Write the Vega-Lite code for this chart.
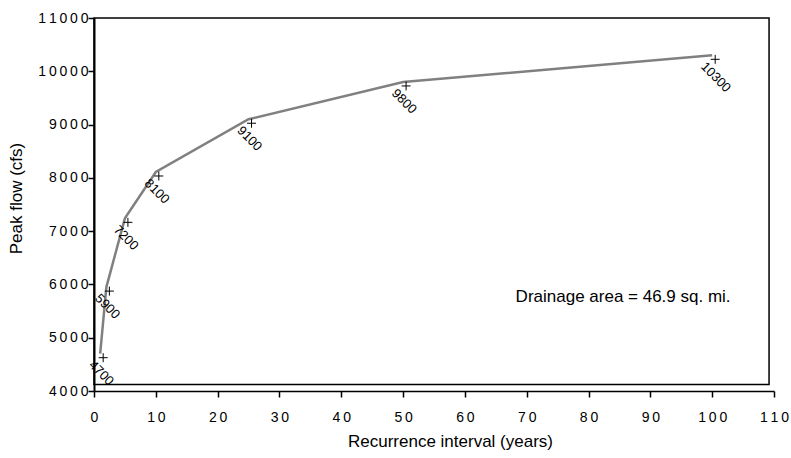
{
  "$schema": "https://vega.github.io/schema/vega-lite/v6.json",
  "autosize": "none",
  "width": 680,
  "height": 373,
  "padding": {"left": 94, "top": 18, "right": 17, "bottom": 67},
  "background": "white",
  "config": {
    "view": {"stroke": null},
    "font": "Liberation Sans",
    "axis": {
      "labelFont": "Liberation Sans",
      "titleFont": "Liberation Sans",
      "labelColor": "black",
      "titleColor": "black",
      "domainColor": "black",
      "tickColor": "black",
      "grid": false,
      "titleFontWeight": "normal"
    }
  },
  "datasets": {
    "flows": [
      {"interval": 1, "flow": 4700, "label": "4700"},
      {"interval": 2, "flow": 5950, "label": "5900"},
      {"interval": 5, "flow": 7240, "label": "7200"},
      {"interval": 10, "flow": 8110, "label": "8100"},
      {"interval": 25, "flow": 9100, "label": "9100"},
      {"interval": 50, "flow": 9800, "label": "9800"},
      {"interval": 100, "flow": 10300, "label": "10300"}
    ],
    "frame": [{"x1": 0, "x2": 109.2, "y1": 4120, "y2": 11000}],
    "note": [{"x": 68.2, "y": 5770, "text": "Drainage area = 46.9 sq. mi."}]
  },
  "layer": [
    {
      "data": {"name": "frame"},
      "mark": {"type": "rect", "fill": null, "stroke": "black", "strokeWidth": 1.5},
      "encoding": {
        "x": {
          "field": "x1", "type": "quantitative",
          "scale": {"domain": [0, 110], "nice": false, "zero": false},
          "axis": {
            "title": "Recurrence interval (years)",
            "titleFontSize": 17,
            "titlePadding": 9,
            "titleX": 356,
            "values": [0,5,10,15,20,25,30,35,40,45,50,55,60,65,70,75,80,85,90,95,100,105,110],
            "labelExpr": "datum.value % 10 == 0 ? join(split(datum.label, ''), '\u2009') : ''",
            "labelFontSize": 14,
            "labelPadding": 13,
            "tickSize": 6,
            "tickWidth": 1.5,
            "domainWidth": 1.5,
            "labelFlush": false,
            "labelOverlap": false
          }
        },
        "x2": {"field": "x2"},
        "y": {
          "field": "y1", "type": "quantitative",
          "scale": {"domain": [4000, 11000], "nice": false, "zero": false},
          "axis": {
            "title": "Peak flow (cfs)",
            "titleFontSize": 17,
            "titlePadding": 12,
            "titleY": 180,
            "values": [4000,4500,5000,5500,6000,6500,7000,7500,8000,8500,9000,9500,10000,10500,11000],
            "labelExpr": "datum.value % 1000 == 0 ? join(split(format(datum.value, 'd'), ''), '\u2009') : ''",
            "labelFontSize": 14,
            "labelPadding": 0,
            "tickSize": 6,
            "tickWidth": 1.5,
            "domainWidth": 2,
            "labelFlush": false,
            "labelOverlap": false
          }
        },
        "y2": {"field": "y2"}
      }
    },
    {
      "data": {"name": "flows"},
      "mark": {"type": "line", "color": "#808080", "strokeWidth": 2.5},
      "encoding": {
        "x": {"field": "interval", "type": "quantitative"},
        "y": {"field": "flow", "type": "quantitative"}
      }
    },
    {
      "data": {"name": "flows"},
      "mark": {"type": "point", "shape": "M-1,0H1M0,-1V1", "size": 81, "filled": false, "stroke": "black", "strokeWidth": 1, "opacity": 1, "xOffset": 3, "yOffset": 4},
      "encoding": {
        "x": {"field": "interval", "type": "quantitative"},
        "y": {"field": "flow", "type": "quantitative"}
      }
    },
    {
      "data": {"name": "flows"},
      "mark": {"type": "text", "fontSize": 13, "color": "black", "angle": 45, "align": "left", "baseline": "middle", "dx": 0, "dy": 13},
      "encoding": {
        "x": {"field": "interval", "type": "quantitative"},
        "y": {"field": "flow", "type": "quantitative"},
        "text": {"field": "label"}
      }
    },
    {
      "data": {"name": "note"},
      "mark": {"type": "text", "fontSize": 17, "color": "black", "align": "left", "baseline": "middle"},
      "encoding": {
        "x": {"field": "x", "type": "quantitative"},
        "y": {"field": "y", "type": "quantitative"},
        "text": {"field": "text"}
      }
    }
  ]
}
